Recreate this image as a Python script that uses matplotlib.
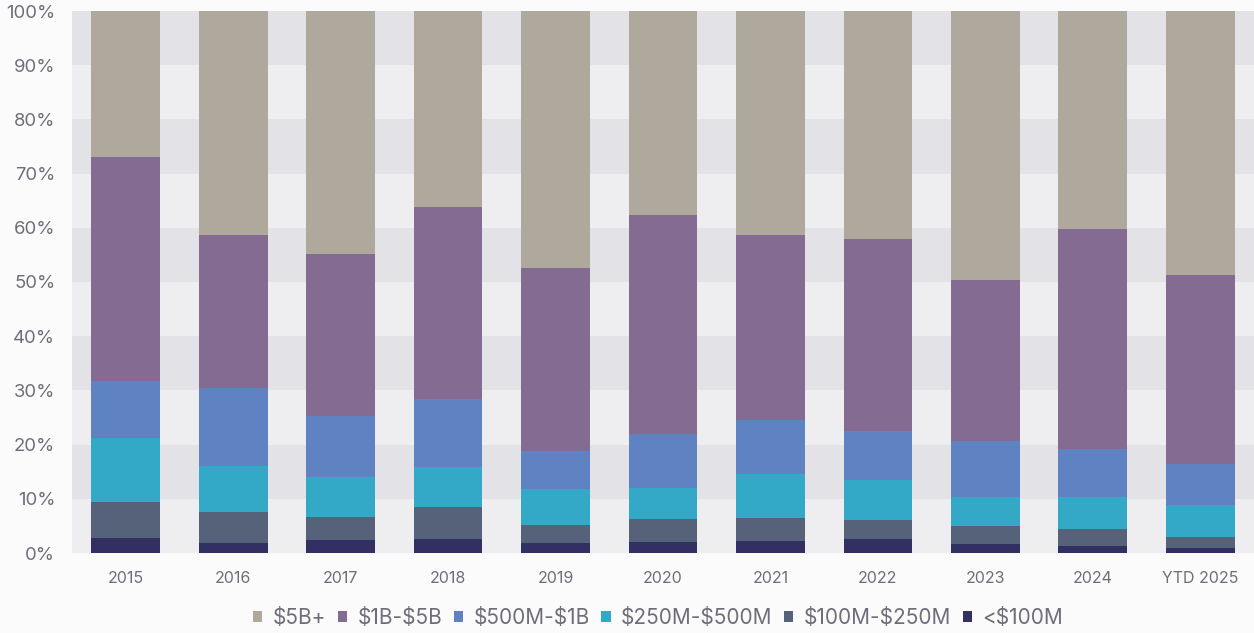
import matplotlib
matplotlib.use("Agg")
import matplotlib.pyplot as plt
from matplotlib.patches import Patch
import numpy as np

categories = ["2015", "2016", "2017", "2018", "2019", "2020", "2021", "2022", "2023", "2024", "YTD 2025"]

# Share of deal value by size bucket (%), bottom to top
under_100m = [2.8, 1.8, 2.4, 2.6, 1.8, 2.1, 2.3, 2.5, 1.7, 1.3, 1.0]
m100_250 = [6.6, 5.8, 4.3, 5.8, 3.4, 4.1, 4.2, 3.5, 3.3, 3.1, 2.0]
m250_500 = [11.8, 8.4, 7.4, 7.4, 6.6, 5.8, 8.0, 7.5, 5.4, 5.9, 5.9]
m500_1b = [10.5, 14.5, 11.2, 12.6, 7.0, 9.9, 10.1, 9.0, 10.3, 8.8, 7.5]
b1_5 = [41.4, 28.1, 29.8, 35.4, 33.8, 40.5, 34.1, 35.4, 29.6, 40.6, 34.9]
b5_plus = [26.9, 41.4, 44.9, 36.2, 47.4, 37.6, 41.3, 42.1, 49.7, 40.3, 48.7]

series = [
    ("<$100M", under_100m, "#322f62"),
    ("$100M-$250M", m100_250, "#55627a"),
    ("$250M-$500M", m250_500, "#34a8c7"),
    ("$500M-$1B", m500_1b, "#5f82c2"),
    ("$1B-$5B", b1_5, "#836b91"),
    ("$5B+", b5_plus, "#aea99c"),
]

y_ticks = [0, 10, 20, 30, 40, 50, 60, 70, 80, 90, 100]
y_tick_labels = [f"{t}%" for t in y_ticks]

plt.rcParams["font.family"] = ["Inter", "DejaVu Sans"]
plt.rcParams["text.parse_math"] = False
text_color = "#6e6e7a"

fig = plt.figure(figsize=(12.54, 6.33), dpi=100, facecolor="#fbfbfc")
ax = fig.add_axes([72 / 1254, 80 / 633, 1182 / 1254, 542 / 633])
ax.set_facecolor("#eeeef1")

# Alternating horizontal bands behind the bars
for i in range(10):
    if i % 2 == 1:
        ax.axhspan(i * 10, (i + 1) * 10, color="#e2e2e7", lw=0, zorder=0)

x = np.arange(len(categories))
bottom = np.zeros(len(categories))
for name, vals, color in series:
    vals = np.array(vals, dtype=float)
    ax.bar(x, vals, width=0.64, bottom=bottom, color=color, edgecolor="none", zorder=2)
    bottom += vals

ax.set_xlim(-0.5, len(categories) - 0.5)
ax.set_ylim(0, 100)
ax.set_yticks(y_ticks)
ax.set_yticklabels(y_tick_labels)
ax.set_xticks(x)
ax.set_xticklabels(categories)
ax.tick_params(axis="y", length=0, pad=12, labelsize=13.3, labelcolor=text_color)
ax.tick_params(axis="x", length=0, pad=13, labelsize=11.5, labelcolor=text_color)
for s in ax.spines.values():
    s.set_visible(False)

handles = [Patch(facecolor=c, edgecolor="none", label=n) for n, _, c in reversed(series)]
leg = fig.legend(handles=handles, loc="center", bbox_to_anchor=(658 / 1254, 1 - 618 / 633),
                 ncol=6, frameon=False, fontsize=15, handlelength=0.45, handleheight=0.45,
                 handletextpad=0.5, columnspacing=0.55)
for t in leg.get_texts():
    t.set_color(text_color)

fig.savefig("out.png", dpi=100, facecolor=fig.get_facecolor())
